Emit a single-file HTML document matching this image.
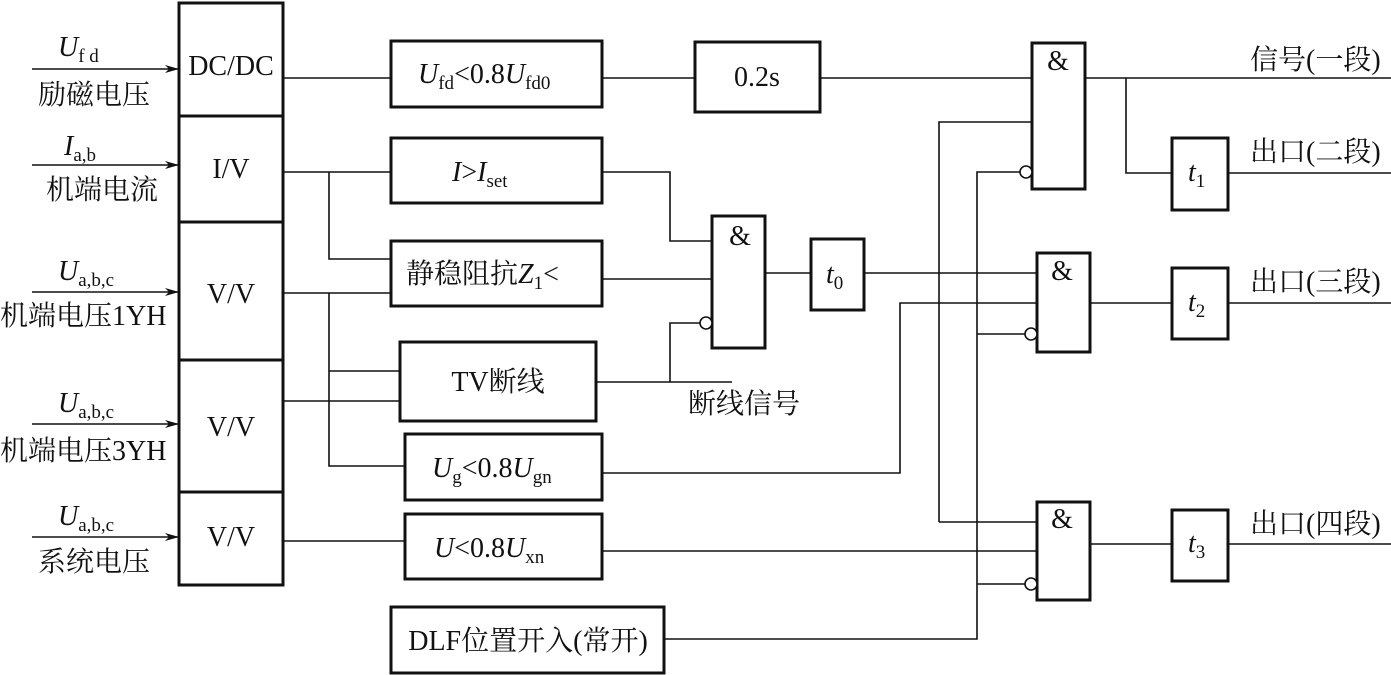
<!DOCTYPE html>
<html><head><meta charset="utf-8"><style>
html,body{margin:0;padding:0;background:#fff;}
svg{display:block;}
text{font-family:"Liberation Serif","Noto Serif CJK SC","Noto Sans CJK SC",serif;font-size:28px;fill:#111;}
.i{font-style:italic;}
.s{font-size:19px;font-style:normal;}
</style></head><body>
<svg width="1391" height="675" viewBox="0 0 1391 675" xmlns="http://www.w3.org/2000/svg">
<defs><marker id="a" markerWidth="14" markerHeight="8" refX="13" refY="4" orient="auto" markerUnits="userSpaceOnUse"><path d="M0,0 L14,4 L0,8 L4,4 Z" fill="#111"/></marker></defs>
<g fill="none" stroke="#111" stroke-width="3">
<rect x="179" y="3" width="104" height="582"/>
<line x1="179" y1="116" x2="283" y2="116"/><line x1="179" y1="222" x2="283" y2="222"/>
<line x1="179" y1="360" x2="283" y2="360"/><line x1="179" y1="492" x2="283" y2="492"/>
<rect x="391" y="41" width="211" height="66"/>
<rect x="391" y="138" width="211" height="65"/>
<rect x="391" y="241" width="211" height="65"/>
<rect x="400" y="342" width="196" height="79"/>
<rect x="405" y="434" width="197" height="66"/>
<rect x="405" y="514" width="197" height="65"/>
<rect x="391" y="607" width="273" height="66"/>
<rect x="695" y="42" width="125" height="70"/>
<rect x="712" y="216" width="53" height="132"/>
<rect x="811" y="239" width="53" height="71"/>
<rect x="1032" y="43" width="53" height="146"/>
<rect x="1037" y="253" width="53" height="99"/>
<rect x="1037" y="502" width="53" height="98"/>
<rect x="1172" y="138" width="56" height="72"/>
<rect x="1172" y="268" width="56" height="71"/>
<rect x="1172" y="510" width="56" height="71"/>
</g>
<g fill="none" stroke="#111" stroke-width="1.6">
<line x1="32" y1="69" x2="178" y2="69" marker-end="url(#a)"/>
<line x1="32" y1="165" x2="178" y2="165" marker-end="url(#a)"/>
<line x1="32" y1="292" x2="178" y2="292" marker-end="url(#a)"/>
<line x1="32" y1="424" x2="178" y2="424" marker-end="url(#a)"/>
<line x1="32" y1="537" x2="178" y2="537" marker-end="url(#a)"/>
<polyline points="283,78 391,78"/><polyline points="602,78 695,78"/><polyline points="820,78 1032,78"/>
<polyline points="283,172 391,172"/><polyline points="329,172 329,259 391,259"/>
<polyline points="283,293 391,293"/><polyline points="329,293 329,466 405,466"/><polyline points="329,371 400,371"/>
<polyline points="283,401 400,401"/>
<polyline points="283,541 405,541"/>
<polyline points="602,172 670,172 670,241 712,241"/>
<polyline points="602,279 712,279"/>
<polyline points="596,382 732,382"/><polyline points="670,382 670,323 700,323"/>
<polyline points="765,273 811,273"/><polyline points="864,273 1037,273"/>
<polyline points="602,473 900,473 900,303 1037,303"/>
<polyline points="602,551 1037,551"/>
<polyline points="664,639 977,639 977,172 1020,172"/>
<polyline points="977,334 1025,334"/><polyline points="977,584 1025,584"/>
<polyline points="939,522 939,122 1032,122"/><polyline points="939,522 1037,522"/>
<polyline points="1085,78 1391,78"/><polyline points="1126,78 1126,173 1172,173"/>
<polyline points="1228,173 1391,173"/>
<polyline points="1090,303 1172,303"/><polyline points="1228,303 1391,303"/>
<polyline points="1090,544 1172,544"/><polyline points="1228,544 1391,544"/>
<circle cx="706" cy="323" r="6" fill="#fff"/>
<circle cx="1026" cy="172" r="6" fill="#fff"/>
<circle cx="1031" cy="334" r="6" fill="#fff"/>
<circle cx="1031" cy="584" r="6" fill="#fff"/>
</g>
<text x="58" y="56" class="i">U<tspan class="s" dy="6">f d</tspan></text>
<text x="38" y="104">励磁电压</text>
<text x="64" y="155" class="i">I<tspan class="s" dy="6">a,b</tspan></text>
<text x="46" y="199">机端电流</text>
<text x="58" y="280" class="i">U<tspan class="s" dy="6">a,b,c</tspan></text>
<text x="0" y="325">机端电压1YH</text>
<text x="58" y="412" class="i">U<tspan class="s" dy="6">a,b,c</tspan></text>
<text x="0" y="460">机端电压3YH</text>
<text x="58" y="525" class="i">U<tspan class="s" dy="6">a,b,c</tspan></text>
<text x="38" y="571">系统电压</text>
<g text-anchor="middle">
<text x="231" y="75">DC/DC</text>
<text x="231" y="178">I/V</text>
<text x="231" y="303">V/V</text>
<text x="231" y="436">V/V</text>
<text x="231" y="546">V/V</text>
<text x="757" y="86">0.2s</text>
<text x="1058" y="70">&amp;</text>
<text x="740" y="245">&amp;</text>
<text x="1062" y="280">&amp;</text>
<text x="1062" y="528">&amp;</text>
<text x="498" y="391">TV断线</text>
<text x="528" y="650">DLF位置开入(常开)</text>
</g>
<text x="418" y="83" class="i">U<tspan class="s" dy="6">fd</tspan><tspan dy="-6" style="font-style:normal">&lt;0.8</tspan>U<tspan class="s" dy="6">fd0</tspan></text>
<text x="452" y="181" class="i">I<tspan style="font-style:normal">&gt;</tspan>I<tspan class="s" dy="6">set</tspan></text>
<text x="406" y="283">静稳阻抗<tspan class="i">Z</tspan><tspan class="s" dy="6">1</tspan><tspan dy="-6">&lt;</tspan></text>
<text x="432" y="477" class="i">U<tspan class="s" dy="6">g</tspan><tspan dy="-6" style="font-style:normal">&lt;0.8</tspan>U<tspan class="s" dy="6">gn</tspan></text>
<text x="434" y="557" class="i">U<tspan style="font-style:normal">&lt;0.8</tspan>U<tspan class="s" dy="6">xn</tspan></text>
<text x="688" y="413">断线信号</text>
<text x="826" y="283" class="i">t<tspan class="s" dy="6">0</tspan></text>
<text x="1188" y="181" class="i">t<tspan class="s" dy="6">1</tspan></text>
<text x="1188" y="311" class="i">t<tspan class="s" dy="6">2</tspan></text>
<text x="1188" y="552" class="i">t<tspan class="s" dy="6">3</tspan></text>
<text x="1250" y="69">信号(一段)</text>
<text x="1250" y="161">出口(二段)</text>
<text x="1250" y="291">出口(三段)</text>
<text x="1250" y="533">出口(四段)</text>
</svg>
</body></html>
